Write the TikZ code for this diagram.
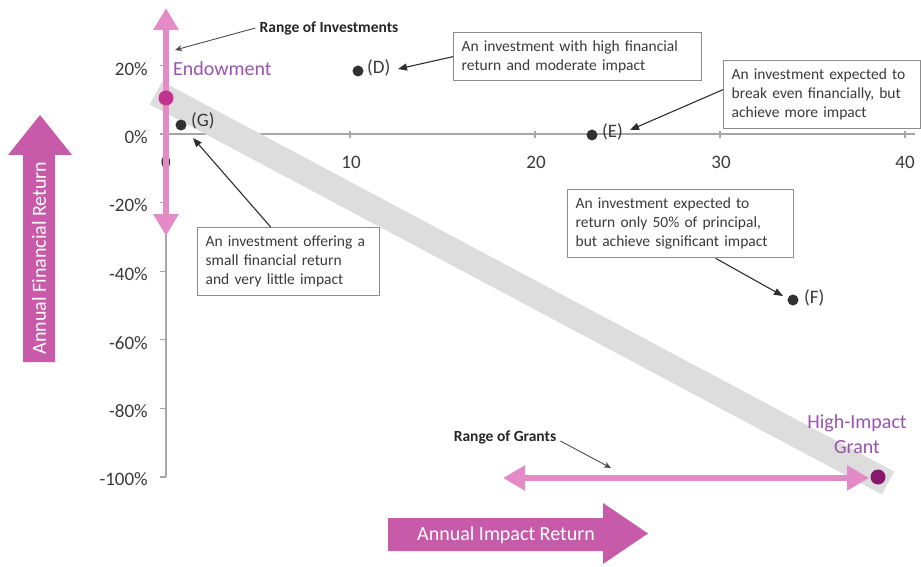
\documentclass[tikz,border=0pt]{standalone}
\usepackage{fontspec}
\setmainfont{Carlito}
\usetikzlibrary{arrows.meta}
\definecolor{bigmag}{HTML}{C75AA9}
\definecolor{rangepink}{HTML}{E48AC6}
\definecolor{endodot}{HTML}{C2338F}
\definecolor{grantdot}{HTML}{86196B}
\definecolor{purptxt}{HTML}{9A52AE}
\definecolor{bandgray}{HTML}{DDDDDD}
\definecolor{axisgray}{HTML}{A6A6A6}
\definecolor{txt}{HTML}{3A3A3A}
\definecolor{boxline}{HTML}{8C8C8C}
\begin{document}
\begin{tikzpicture}[x=1pt,y=-1pt,
  ticklab/.style={font=\fontsize{19}{22}\selectfont, text=txt, inner sep=0pt},
  boxnote/.style={draw=boxline, line width=1.3pt, fill=white, font=\fontsize{15.5}{19}\selectfont, text=txt, align=left, inner xsep=8pt, inner ysep=5pt, anchor=north west},
  ptdot/.style={circle, fill=txt!85!black, minimum size=11pt, inner sep=0pt},
  ptlab/.style={font=\fontsize{19}{22}\selectfont, text=txt, inner sep=0pt, anchor=west},
  callout/.style={draw=txt!80!black, line width=1.1pt, -{Triangle[length=9pt,width=7pt]}},
  rangenote/.style={font=\bfseries\fontsize{15.5}{18}\selectfont, text=black!85, inner sep=0pt},
  thinarrow/.style={draw=black!70, line width=0.9pt, -{Stealth[length=7pt,width=6pt,inset=2pt]}},
  rangearrow/.style={draw=rangepink, line width=6pt, {Triangle[length=22pt,width=24pt]}-{Triangle[length=22pt,width=24pt]}},
  bigtext/.style={font=\fontsize{20}{24}\selectfont, text=white, inner sep=0pt},
  purplab/.style={font=\fontsize{20}{25}\selectfont, text=purptxt, inner sep=0pt, align=center},
  axisline/.style={draw=axisgray, line width=1.2pt},
]
\useasboundingbox (0,0) rectangle (921,567);

% axes
\coordinate (yaxTop) at (166,60);
\coordinate (yaxBot) at (166,477);
\coordinate (xaxL) at (166,134);
\coordinate (xaxR) at (915,134);
\draw[axisline] (yaxTop) -- (yaxBot);
\draw[axisline] (xaxL) -- (xaxR);
\foreach \yy in {65.4,134,202.6,271.2,339.8,408.4,477} \draw[axisline] (160,\yy) -- (166,\yy);
\foreach \xx in {350,535,720,905} \draw[axisline] (\xx,131) -- (\xx,138);

% tick labels
\node[ticklab, anchor=east] (t20) at (148,69) {20\%};
\node[ticklab, anchor=east] (t0) at (148,137) {0\%};
\node[ticklab, anchor=east] (tm20) at (148,205) {-20\%};
\node[ticklab, anchor=east] (tm40) at (148,274) {-40\%};
\node[ticklab, anchor=east] (tm60) at (148,343) {-60\%};
\node[ticklab, anchor=east] (tm80) at (148,411) {-80\%};
\node[ticklab, anchor=east] (tm100) at (148,479) {-100\%};
\node[ticklab] (x0) at (166,162) {0};
\node[ticklab] (x10) at (351,162) {10};
\node[ticklab] (x20) at (536,162) {20};
\node[ticklab] (x30) at (721,162) {30};
\node[ticklab] (x40) at (905,162) {40};

% band
\coordinate (bandA) at (156,93);
\coordinate (bandB) at (888,483);
\draw[draw=bandgray, line width=26pt] (bandA) -- (bandB);

% range arrows
\coordinate (invTop) at (166,8);
\coordinate (invBot) at (166,236);
\draw[rangearrow] (invBot) -- (invTop);
\coordinate (grL) at (503,478);
\coordinate (grR) at (869,478);
\draw[rangearrow] (grL) -- (grR);

% big arrows
\fill[bigmag] (8,155) -- (40,115) -- (72,155) -- (55,155) -- (55,362) -- (23,362) -- (23,155) -- cycle;
\node[bigtext, rotate=90] (afr) at (39,258) {Annual Financial Return};
\fill[bigmag] (388,518) -- (603,518) -- (603,503) -- (648,533.5) -- (603,564) -- (603,551) -- (388,551) -- cycle;
\node[bigtext] (air) at (506,535) {Annual Impact Return};

% key points
\node[circle, fill=endodot, minimum size=15pt, inner sep=0pt] (endo) at (166,98) {};
\node[circle, fill=grantdot, minimum size=15pt, inner sep=0pt] (grant) at (878,477) {};
\node[purplab, anchor=west] (endol) at (173,69) {Endowment};
\node[purplab] (grantl) at (857,434.5) {High-Impact\\Grant};

\node[ptdot] (D) at (358,71) {};
\node[ptdot] (E) at (592,135) {};
\node[ptdot] (F) at (793,300) {};
\node[ptdot] (G) at (181,125) {};
\node[ptlab] (Dl) at (367,68) {(D)};
\node[ptlab] (El) at (602,132) {(E)};
\node[ptlab] (Fl) at (804,298) {(F)};
\node[ptlab] (Gl) at (191,121) {(G)};

% range notes
\node[rangenote] (rinv) at (329,28) {Range of Investments};
\coordinate (invPt) at (175,50);
\draw[thinarrow] ([xshift=-4pt]rinv.west) -- (invPt);
\node[rangenote] (rgr) at (505,437) {Range of Grants};
\coordinate (grPt) at (611,468);
\draw[thinarrow] ([xshift=4pt,yshift=-4pt]rgr.east) -- (grPt);

% boxes
\node[boxnote, text width=232pt, minimum height=48pt] (boxD) at (453,32) {An investment with high financial\\return and moderate impact};
\node[boxnote, text width=181pt, minimum height=68pt] (boxE) at (723,60) {An investment expected to\\break even financially, but\\achieve more impact};
\node[boxnote, text width=210pt, minimum height=68pt] (boxF) at (567,189) {An investment expected to\\return only 50\% of principal,\\but achieve significant impact};
\node[boxnote, text width=166pt, minimum height=68pt] (boxG) at (197,227) {An investment offering a\\small financial return\\and very little impact};

\coordinate (Dtip) at (398,69);
\coordinate (Etip) at (630,130);
\coordinate (Ftip) at (783,296);
\coordinate (Gtip) at (193,138);
\draw[callout] (boxD.west) -- (Dtip);
\draw[callout] ([yshift=5pt]boxE.west) -- (Etip);
\draw[callout] ([xshift=35pt]boxF.south) -- (Ftip);
\draw[callout] ([xshift=-18pt]boxG.north) -- (Gtip);
\end{tikzpicture}
\end{document}
